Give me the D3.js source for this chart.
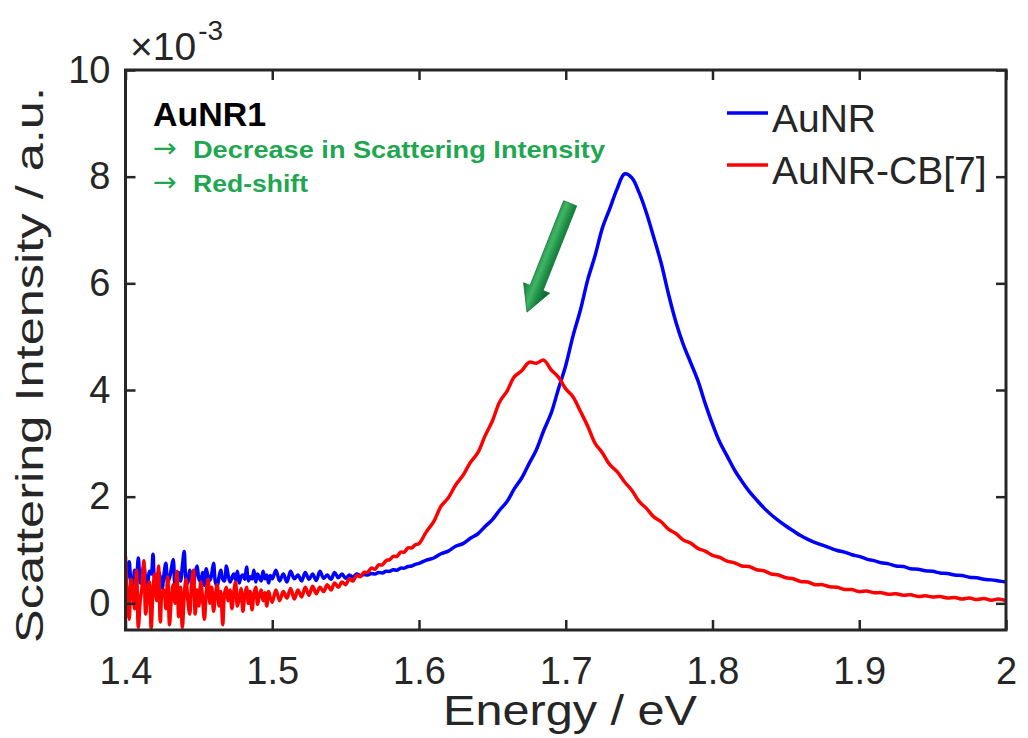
<!DOCTYPE html>
<html>
<head>
<meta charset="utf-8">
<script src="https://cdn.jsdelivr.net/npm/d3@7"></script>
<style>
  html, body { margin: 0; padding: 0; background: #fff; }
  svg { display: block; }
</style>
</head>
<body>
<svg id="chart" width="1028" height="738"></svg>
<script>
// ---------- data (intensity in units of 1e-3 a.u.) ----------
// sample grids (eV): finest in the noisy low-energy part
const energyA = d3.range(80).map(i => +(1.4 + i * 0.00125).toFixed(5));   // 1.400 - 1.499
const energyB = d3.range(40).map(i => +(1.5 + i * 0.0025).toFixed(5));    // 1.500 - 1.5975
const energyC = d3.range(81).map(i => +(1.6 + i * 0.005).toFixed(5));     // 1.600 - 2.000

const aunrA = [
  0.30,0.55,0.78,0.42,0.35,0.62,0.50,0.85,0.38,0.55,
  0.70,0.45,0.30,0.60,0.55,0.92,0.42,0.38,0.60,0.48,
  0.28,0.55,0.75,0.40,0.48,0.65,0.82,0.35,0.50,0.58,
  0.42,0.70,0.97,0.45,0.38,0.62,0.52,0.33,0.58,0.70,
  0.46,0.40,0.58,0.34,0.65,0.50,0.43,0.55,0.75,0.40,
  0.32,0.50,0.62,0.45,0.42,0.70,0.52,0.40,0.48,0.55,
  0.44,0.60,0.38,0.50,0.53,0.45,0.68,0.42,0.50,0.46,
  0.62,0.40,0.55,0.48,0.42,0.60,0.46,0.53,0.38,0.52
];
const aunrB = [
  0.46,0.62,0.42,0.55,0.40,0.60,0.46,0.53,0.42,0.58,
  0.45,0.55,0.43,0.60,0.47,0.53,0.45,0.58,0.48,0.55,
  0.47,0.53,0.49,0.55,0.52,0.54,0.53,0.56,0.55,0.58,
  0.57,0.60,0.60,0.63,0.62,0.66,0.66,0.69,0.70,0.73
];
const aunrC = [
  0.75,0.81,0.85,0.93,0.98,1.07,1.12,1.22,1.30,1.44,
  1.57,1.75,1.91,2.15,2.35,2.62,2.88,3.24,3.56,4.02,
  4.46,5.02,5.50,6.07,6.52,7.04,7.40,7.77,8.05,7.98,
  7.70,7.32,6.86,6.38,5.80,5.28,4.86,4.52,4.18,3.75,
  3.36,3.02,2.76,2.50,2.29,2.10,1.94,1.79,1.66,1.55,
  1.45,1.36,1.27,1.20,1.14,1.09,1.04,0.99,0.96,0.91,
  0.88,0.83,0.80,0.76,0.74,0.70,0.69,0.65,0.64,0.61,
  0.60,0.57,0.56,0.53,0.52,0.49,0.48,0.45,0.44,0.42,
  0.40
];
const cb7A = [
  0.88,0.10,-0.30,0.45,0.20,-0.10,0.62,-0.45,0.05,0.30,
  0.80,-0.20,0.15,0.40,-0.47,0.25,0.55,0.05,0.70,-0.35,
  0.20,0.25,-0.10,0.50,-0.40,0.10,0.35,0.00,0.60,-0.25,
  0.30,-0.45,0.15,0.45,0.05,-0.20,0.35,0.62,-0.20,0.25,
  -0.05,0.40,0.10,-0.30,0.20,0.45,0.00,0.30,-0.15,0.15,
  0.35,-0.05,0.22,-0.40,0.18,0.30,0.05,0.25,-0.10,0.20,
  0.40,-0.05,0.10,0.28,-0.15,0.15,0.30,0.00,0.22,-0.12,
  0.18,0.30,-0.02,0.15,0.25,0.05,0.20,-0.05,0.22,0.10
];
const cb7B = [
  0.02,0.25,0.05,0.22,0.10,0.28,0.08,0.25,0.12,0.30,
  0.15,0.32,0.18,0.30,0.22,0.35,0.25,0.38,0.30,0.40,
  0.35,0.46,0.42,0.52,0.50,0.58,0.58,0.66,0.64,0.72,
  0.72,0.80,0.82,0.88,0.88,0.96,0.96,1.04,1.04,1.10
];
const cb7C = [
  1.12,1.34,1.53,1.82,1.98,2.22,2.40,2.64,2.82,3.14,
  3.42,3.78,3.98,4.25,4.36,4.52,4.50,4.56,4.38,4.24,
  4.02,3.87,3.60,3.32,3.00,2.82,2.60,2.47,2.28,2.12,
  1.91,1.78,1.62,1.53,1.39,1.31,1.19,1.13,1.03,0.98,
  0.90,0.86,0.79,0.76,0.70,0.69,0.63,0.61,0.55,0.53,
  0.48,0.46,0.41,0.40,0.35,0.35,0.31,0.30,0.26,0.26,
  0.22,0.23,0.20,0.20,0.17,0.18,0.15,0.16,0.13,0.14,
  0.12,0.13,0.10,0.11,0.08,0.10,0.07,0.09,0.06,0.08,
  0.05
];

const seriesNames  = ["AuNR", "AuNR-CB[7]"];
const seriesColors = ["#0000ff", "#ff0000"];
const xTicks = [1.4, 1.5, 1.6, 1.7, 1.8, 1.9, 2.0];
const xTickLabels = ["1.4", "1.5", "1.6", "1.7", "1.8", "1.9", "2"];
const yTicks = [0, 2, 4, 6, 8, 10];
const yTickLabels = ["0", "2", "4", "6", "8", "10"];
// annotation arrow (data coords): tail -> tip
const arrowTail = [1.703, 7.5];
const arrowTip  = [1.6736, 5.46];

// ---------- layout ----------
const FONT = "'Liberation Sans', Arial, Helvetica, sans-serif";
const svg = d3.select("#chart").style("font-family", FONT);
const L = 125.5, R = 1006, T = 70, B = 630;
const x = d3.scaleLinear().domain([1.4, 2.0]).range([L, R]);
const y = d3.scaleLinear().domain([-0.5, 10]).range([B, T]);
const axisColor = "#262626";

svg.append("rect").attr("width", 1028).attr("height", 738).attr("fill", "#fff");

const energy = energyA.concat(energyB, energyC);
const series = [aunrA.concat(aunrB, aunrC), cb7A.concat(cb7B, cb7C)];

const defs = svg.append("defs");
defs.append("clipPath").attr("id", "clip")
  .append("rect").attr("x", L).attr("y", T - 2).attr("width", R - L).attr("height", B - T + 2);

const line = d3.line().curve(d3.curveCatmullRom.alpha(0.5)).x(d => x(d[0])).y(d => y(d[1]));
const gLines = svg.append("g").attr("clip-path", "url(#clip)");
series.forEach((vals, k) => {
  gLines.append("path")
    .datum(energy.map((e, i) => [e, vals[i]]))
    .attr("fill", "none")
    .attr("stroke", seriesColors[k])
    .attr("stroke-width", 3.5)
    .attr("stroke-linejoin", "round")
    .attr("d", line);
});

// ---------- axes ----------
function styleAxis(g) {
  g.select(".domain").remove();
  g.selectAll(".tick line").attr("stroke", axisColor).attr("stroke-width", 2.5);
  g.selectAll(".tick text").attr("fill", axisColor).attr("font-size", 38).style("font-family", FONT);
}
svg.append("g").attr("transform", `translate(0,${B})`)
  .call(d3.axisBottom(x).tickValues(xTicks).tickFormat((d, i) => xTickLabels[i]).tickSize(-10).tickPadding(27))
  .call(styleAxis);
svg.append("g").attr("transform", `translate(0,${T})`)
  .call(d3.axisTop(x).tickValues(xTicks).tickFormat("").tickSize(-10))
  .call(styleAxis);
svg.append("g").attr("transform", `translate(${L},0)`)
  .call(d3.axisLeft(y).tickValues(yTicks).tickFormat((d, i) => yTickLabels[i]).tickSize(-10).tickPadding(15))
  .call(styleAxis);
svg.append("g").attr("transform", `translate(${R},0)`)
  .call(d3.axisRight(y).tickValues(yTicks).tickFormat("").tickSize(-10))
  .call(styleAxis);

svg.append("rect").attr("x", L).attr("y", T).attr("width", R - L).attr("height", B - T)
  .attr("fill", "none").attr("stroke", axisColor).attr("stroke-width", 3);

// exponent label
const ex = svg.append("text").attr("x", 130).attr("y", 60).attr("fill", axisColor).attr("font-size", 39);
ex.append("tspan").text("×10");
ex.append("tspan").attr("font-size", 28).attr("dy", -20).attr("dx", 2).text("-3");

// axis titles
svg.append("text").attr("x", 570).attr("y", 725).attr("text-anchor", "middle")
  .attr("font-size", 42).attr("fill", axisColor)
  .attr("textLength", 254).attr("lengthAdjust", "spacingAndGlyphs")
  .text("Energy / eV");
svg.append("text").attr("transform", "translate(43,365) rotate(-90)").attr("text-anchor", "middle")
  .attr("font-size", 39).attr("fill", axisColor)
  .attr("textLength", 556).attr("lengthAdjust", "spacingAndGlyphs")
  .text("Scattering Intensity / a.u.");

// ---------- legend ----------
const legY = [113, 165];
seriesNames.forEach((name, k) => {
  svg.append("line").attr("x1", 727).attr("x2", 768).attr("y1", legY[k]).attr("y2", legY[k])
    .attr("stroke", seriesColors[k]).attr("stroke-width", 3.5);
  svg.append("text").attr("x", 772).attr("y", legY[k] + 19).attr("font-size", 39)
    .attr("fill", axisColor).text(name);
});

// ---------- annotations ----------
svg.append("text").attr("x", 153).attr("y", 126).attr("font-size", 33).attr("font-weight", "bold")
  .attr("fill", "#000").attr("textLength", 113).attr("lengthAdjust", "spacingAndGlyphs").text("AuNR1");
const green = "#1fa650";
[["Decrease in Scattering Intensity", 158, 412], ["Red-shift", 192, 115]].forEach(([t, by, len]) => {
  svg.append("text").attr("x", 153).attr("y", by - 1).attr("font-size", 27).attr("fill", green)
    .style("font-family", "'DejaVu Sans', sans-serif")
    .attr("textLength", 24).attr("lengthAdjust", "spacingAndGlyphs").text("→");
  svg.append("text").attr("x", 193).attr("y", by).attr("font-size", 24).attr("font-weight", "bold")
    .attr("fill", green).attr("textLength", len).attr("lengthAdjust", "spacingAndGlyphs").text(t);
});

// green arrow
const grad = defs.append("linearGradient").attr("id", "ag").attr("gradientUnits", "userSpaceOnUse");
const tx = x(arrowTail[0]), ty = y(arrowTail[1]), px = x(arrowTip[0]), py = y(arrowTip[1]);
const len = Math.hypot(px - tx, py - ty), ux = (px - tx) / len, uy = (py - ty) / len;
const nx = -uy, ny = ux; // perpendicular
const sw = 7, hw = 14, hl = 26;
const bx = px - hl * ux, by = py - hl * uy;
grad.attr("x1", tx - hw * nx).attr("y1", ty - hw * ny).attr("x2", tx + hw * nx).attr("y2", ty + hw * ny);
grad.append("stop").attr("offset", "0%").attr("stop-color", "#0c5a28");
grad.append("stop").attr("offset", "35%").attr("stop-color", "#1b8a43");
grad.append("stop").attr("offset", "60%").attr("stop-color", "#3fb565");
grad.append("stop").attr("offset", "100%").attr("stop-color", "#157a3a");
const pts = [
  [tx + sw * nx, ty + sw * ny], [bx + sw * nx, by + sw * ny], [bx + hw * nx, by + hw * ny],
  [px, py], [bx - hw * nx, by - hw * ny], [bx - sw * nx, by - sw * ny], [tx - sw * nx, ty - sw * ny]
];
svg.append("polygon").attr("points", pts.map(p => p.join(",")).join(" "))
  .attr("fill", "url(#ag)").attr("stroke", "#146e34").attr("stroke-width", 0.8);
</script>
</body>
</html>
